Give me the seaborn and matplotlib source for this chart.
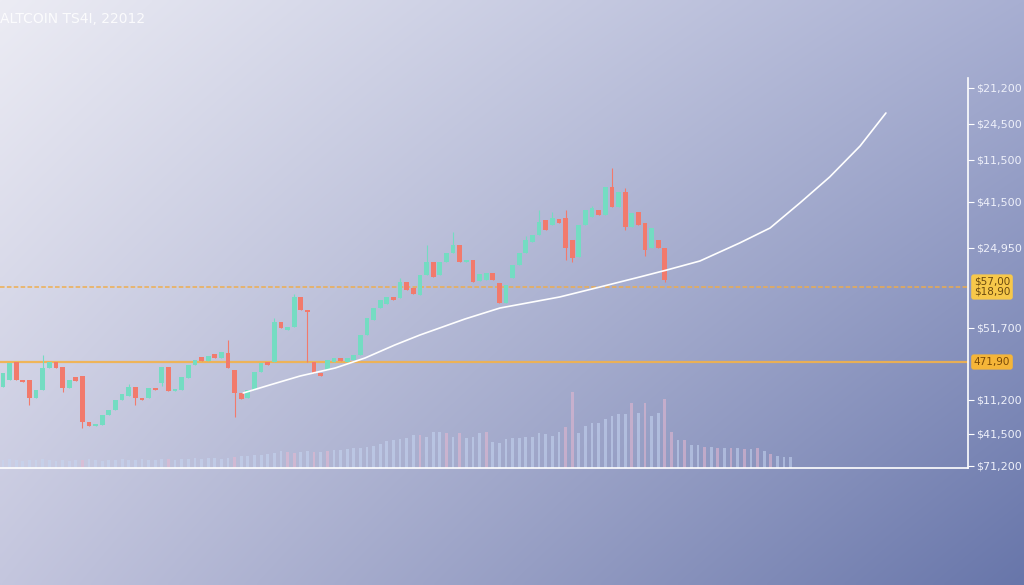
import numpy as np
import matplotlib
matplotlib.use("Agg")
import matplotlib.pyplot as plt
import matplotlib.transforms as mtransforms
import seaborn as sns

# candle data (price units)
candle_open = [81, 88, 106, 88, 88, 70, 78, 100, 106, 101,
               80, 91, 92, 46, 42, 43, 53, 58, 68, 72,
               81, 70, 70, 80, 85, 101, 77, 78, 90, 103,
               111, 107, 114, 110, 115, 98, 75, 70, 78, 96,
               106, 106, 146, 138, 141, 171, 158, 106, 95, 98,
               106, 110, 106, 108, 113, 133, 148, 160, 164, 171,
               170, 186, 180, 173, 193, 206, 193, 206, 215, 223,
               206, 208, 187, 188, 195, 185, 165, 190, 203, 215,
               226, 233, 248, 243, 249, 250, 228, 211, 243, 251,
               258, 253, 281, 261, 276, 241, 256, 245, 220, 228,
               220]
candle_close = [95, 105, 88, 86, 70, 78, 100, 106, 100, 80,
                88, 87, 46, 42, 44, 53, 58, 68, 74, 81,
                70, 68, 80, 78, 101, 77, 79, 91, 103, 108,
                107, 112, 110, 116, 100, 75, 69, 78, 96, 105,
                103, 146, 140, 141, 171, 158, 156, 95, 92, 108,
                110, 107, 110, 113, 133, 150, 160, 168, 171, 168,
                186, 178, 174, 193, 206, 191, 206, 215, 223, 206,
                208, 186, 194, 195, 188, 165, 183, 203, 215, 228,
                233, 246, 238, 250, 245, 220, 210, 243, 258, 260,
                253, 281, 261, 276, 241, 255, 243, 218, 240, 220,
                188]
wick_high = {6: 113, 19: 84, 34: 128, 41: 150, 44: 174, 60: 190, 64: 223,
             68: 236, 79: 232, 81: 258, 83: 256, 85: 258, 89: 262,
             92: 300, 94: 280}
wick_low = {4: 63, 9: 76, 12: 40, 20: 63, 24: 82, 35: 51, 46: 106,
            85: 208, 86: 206, 94: 238, 97: 212, 100: 186}

# volume bars
volume = [8, 9, 8, 7, 8, 8, 9, 8, 7, 8,
          7, 8, 8, 9, 8, 7, 8, 8, 9, 8,
          8, 9, 8, 8, 9, 9, 8, 9, 9, 10,
          9, 10, 10, 9, 10, 11, 12, 12, 13, 13,
          14, 15, 17, 16, 15, 16, 17, 16, 16, 17,
          18, 18, 19, 20, 20, 21, 22, 24, 27, 28,
          29, 30, 33, 33, 31, 36, 36, 35, 31, 35,
          30, 31, 35, 36, 26, 25, 29, 30, 30, 31,
          31, 35, 34, 32, 36, 41, 76, 35, 42, 45,
          45, 49, 52, 54, 54, 65, 55, 65, 52, 55,
          69, 36, 28, 28, 23, 23, 21, 21, 20, 20,
          20, 20, 19, 19, 20, 17, 14, 12, 11, 11]
volume_down = [12, 25, 35, 43, 44, 47, 49, 63, 67, 69, 73, 85, 86, 95,
               97, 100, 101, 103, 106, 108, 110, 112, 114, 116]

# trend curve
trend_x = [36.3, 40.3, 44.9, 50.2, 54.7, 59.2, 63.0, 69.8, 75.1, 84.1,
           90.2, 96.2, 100.3, 105.3, 111.3, 115.9, 120.4, 124.9, 129.5, 133.4]
trend_p = [75, 83, 92, 100, 110, 123, 133, 149, 160, 171,
           181, 191, 198, 207, 225, 240, 265, 291, 322, 355]

# axis labels
tick_vals = [380, 344, 308, 266, 220, 140, 68, 34, 2]
tick_labels = ["$21,200", "$24,500", "$11,500", "$41,500", "$24,950",
               "$51,700", "$11,200", "$41,500", "$71,200"]
level_upper = 181
level_lower = 106
upper_label = "$57,00\n$18,90"
lower_label = "471,90"
title = "ALTCOIN TS4I, 22012"

GREEN = "#74dcc2"
RED = "#f27a6c"

sns.set_theme(style="white")
plt.rcParams["font.family"] = ["DejaVu Sans"]

fig = plt.figure(figsize=(10.24, 5.85), dpi=100)

# gradient background
bg = fig.add_axes([0, 0, 1, 1], zorder=-1)
tl = np.array([236, 236, 244]) / 255
tr = np.array([168, 175, 210]) / 255
bl = np.array([196, 198, 222]) / 255
br = np.array([104, 118, 170]) / 255
u = np.linspace(0, 1, 256)[None, :, None]
v = np.linspace(0, 1, 160)[:, None, None]
grad = (1 - v) * ((1 - u) * tl + u * tr) + v * ((1 - u) * bl + u * br)
bg.imshow(grad, aspect="auto", extent=[0, 1, 0, 1], interpolation="bilinear")
bg.axis("off")

ax = fig.add_axes([0, 0.2, 968 / 1024, 0.6667])
ax.set_facecolor("none")

o = np.array(candle_open, dtype=float)
c = np.array(candle_close, dtype=float)
x = np.arange(len(o))
up = c >= o
colors = np.where(up, GREEN, RED)
body_lo = np.minimum(o, c)
body_h = np.maximum(np.abs(c - o), 1.5)
highs = [wick_high.get(i, max(o[i], c[i])) for i in x]
lows = [wick_low.get(i, min(o[i], c[i])) for i in x]

# volume
vx = np.arange(len(volume))
vcol = ["#e8b8d0" if i in volume_down else "#c6d6f2" for i in vx]
ax.bar(vx, volume, width=0.42, color=vcol, alpha=0.55, linewidth=0, zorder=1)

ax.axhline(level_upper, color="#f0ac48", lw=1.1, ls=(0, (3, 1.5)), alpha=0.95, zorder=2)
ax.axhline(level_lower, color="#f3b24a", lw=1.6, alpha=0.9, zorder=2)

ax.vlines(x, lows, highs, colors=colors, lw=0.8, zorder=3)
ax.bar(x, body_h, bottom=body_lo, width=0.72, color=colors, linewidth=0, zorder=4)

sns.lineplot(x=trend_x, y=trend_p, ax=ax, color="white", lw=1.2, sort=False, zorder=5)

ax.set_xlim(-0.45, 145.8)
ax.set_ylim(0, 390)
ax.set_xticks([])
ax.yaxis.tick_right()
ax.set_yticks(tick_vals)
ax.set_yticklabels(tick_labels)
ax.tick_params(axis="y", colors="white", labelcolor="#eef0fa", labelsize=8,
               length=4, width=0.8, pad=2, direction="out")
for side in ["top", "left"]:
    ax.spines[side].set_visible(False)
for side in ["right", "bottom"]:
    ax.spines[side].set_color("white")
    ax.spines[side].set_linewidth(1.2)

trans = mtransforms.blended_transform_factory(ax.transAxes, ax.transData)
ax.text(1.006, level_upper, upper_label, transform=trans, fontsize=7.5,
        color="#6b4a10", va="center", ha="left", linespacing=1.0,
        bbox=dict(boxstyle="round,pad=0.25", fc="#f7c84a", ec="none"))
ax.text(1.006, level_lower, lower_label, transform=trans, fontsize=7.5,
        color="#7a4a08", va="center", ha="left",
        bbox=dict(boxstyle="round,pad=0.25", fc="#f5b538", ec="none"))

fig.text(0.0, 0.968, title, color="white", fontsize=10, alpha=0.85,
         ha="left", va="center")

fig.savefig("out.png", dpi=100)
